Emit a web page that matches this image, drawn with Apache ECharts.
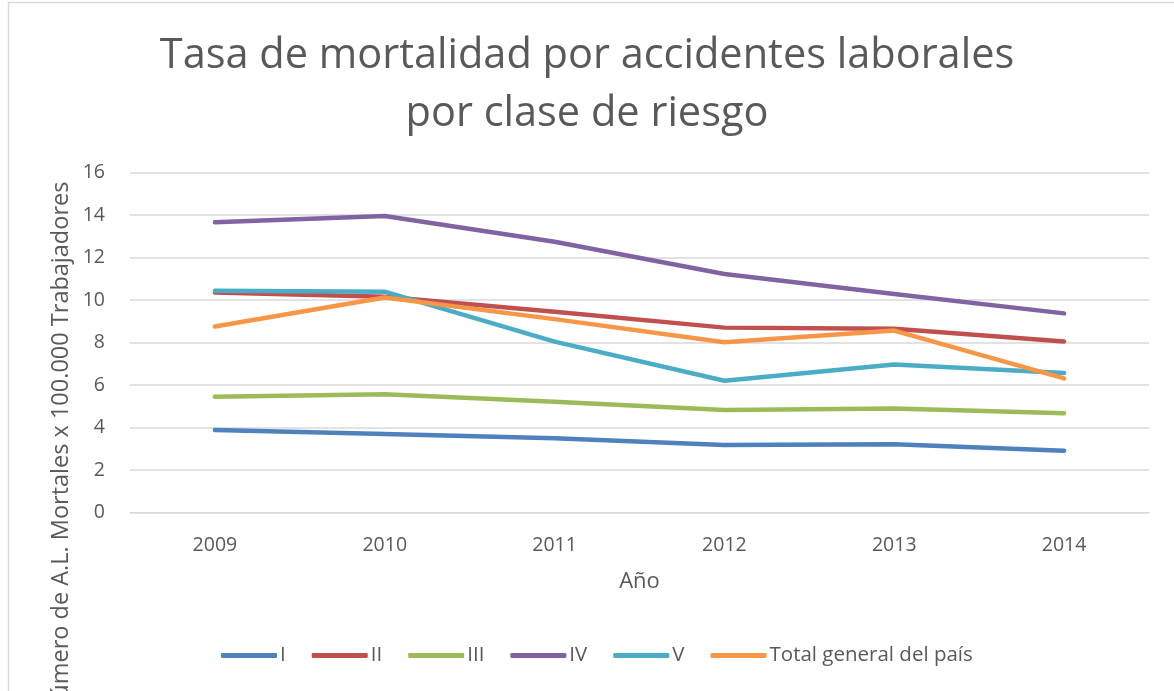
<!DOCTYPE html>
<html>
<head>
<meta charset="utf-8">
<script src="https://cdn.jsdelivr.net/npm/echarts@6/dist/echarts.min.js"></script>
<style>
  html, body { margin: 0; padding: 0; background: #fff; }
  #chart { width: 1174px; height: 691px; }
</style>
</head>
<body>
<div id="chart"></div>
<script>
// Años del eje horizontal
const years = ['2009', '2010', '2011', '2012', '2013', '2014'];

// Tasa de mortalidad (por 100.000 trabajadores) según clase de riesgo
const claseI   = [3.88, 3.69, 3.49, 3.18, 3.21, 2.91];
const claseII  = [10.35, 10.15, 9.45, 8.70, 8.65, 8.05];
const claseIII = [5.45, 5.56, 5.21, 4.82, 4.89, 4.67];
const claseIV  = [13.66, 13.95, 12.74, 11.22, 10.28, 9.37];
const claseV   = [10.44, 10.39, 8.04, 6.20, 6.97, 6.56];
const totalPais = [8.75, 10.12, 9.10, 8.01, 8.56, 6.31];

const seriesNames = ['I', 'II', 'III', 'IV', 'V', 'Total general del país'];
const seriesData = [claseI, claseII, claseIII, claseIV, claseV, totalPais];
const seriesColors = ['#4F81BD', '#C0504D', '#9BBB59', '#8064A2', '#4BACC6', '#F79646'];

const FONT = '"Open Sans", "Liberation Sans", sans-serif';
const TEXT = '#595959';

const chart = echarts.init(document.getElementById('chart'), null, { renderer: 'canvas' });

chart.setOption({
  backgroundColor: '#ffffff',
  animation: false,
  textStyle: { fontFamily: FONT, color: TEXT },
  title: {
    text: 'Tasa de mortalidad por accidentes laborales\npor clase de riesgo',
    left: 'center',
    top: 22,
    textStyle: {
      fontFamily: FONT,
      fontSize: 41.5,
      fontWeight: 'normal',
      color: TEXT,
      lineHeight: 58
    }
  },
  legend: {
    data: seriesNames,
    top: 640,
    left: 216,
    itemWidth: 56,
    itemHeight: 5,
    itemGap: 26,
    icon: 'roundRect',
    textStyle: { fontFamily: FONT, fontSize: 20.5, color: TEXT, padding: [0, 0, 0, -2] }
  },
  grid: {
    left: 130,
    right: 25,
    top: 172.5,
    bottom: 178.5,
    containLabel: false
  },
  xAxis: {
    type: 'category',
    data: years,
    boundaryGap: true,
    name: 'Año',
    nameLocation: 'middle',
    nameGap: 58,
    nameTextStyle: { fontFamily: FONT, fontSize: 22, color: TEXT },
    axisLine: { show: true, lineStyle: { color: '#d9d9d9', width: 1 } },
    axisTick: { show: false },
    axisLabel: { fontFamily: FONT, fontSize: 19.5, color: TEXT, margin: 23 }
  },
  yAxis: {
    type: 'value',
    min: 0,
    max: 16,
    interval: 2,
    axisLine: { show: false },
    axisTick: { show: false },
    axisLabel: { fontFamily: FONT, fontSize: 19.5, color: TEXT, margin: 25 },
    splitLine: { show: true, lineStyle: { color: '#d9d9d9', width: 1.5 } }
  },
  graphic: [
    {
      type: 'rect',
      shape: { x: 8.5, y: 2.5, width: 1300, height: 800 },
      style: { fill: 'none', stroke: '#d9d9d9', lineWidth: 1.5 },
      silent: true,
      z: -1
    },
    {
      type: 'text',
      x: 61,
      y: 449,
      rotation: Math.PI / 2,
      style: {
        text: 'Número de A.L. Mortales x 100.000 Trabajadores',
        fontFamily: FONT,
        fontSize: 23.5,
        fill: TEXT,
        align: 'center',
        verticalAlign: 'middle'
      },
      silent: true
    }
  ],
  series: seriesNames.map((name, i) => ({
    name: name,
    type: 'line',
    data: seriesData[i],
    showSymbol: false,
    symbol: 'none',
    smooth: false,
    color: seriesColors[i],
    lineStyle: { width: 4.5, cap: 'round', join: 'round', color: seriesColors[i] },
    z: 2 + i
  }))
});
</script>
</body>
</html>
